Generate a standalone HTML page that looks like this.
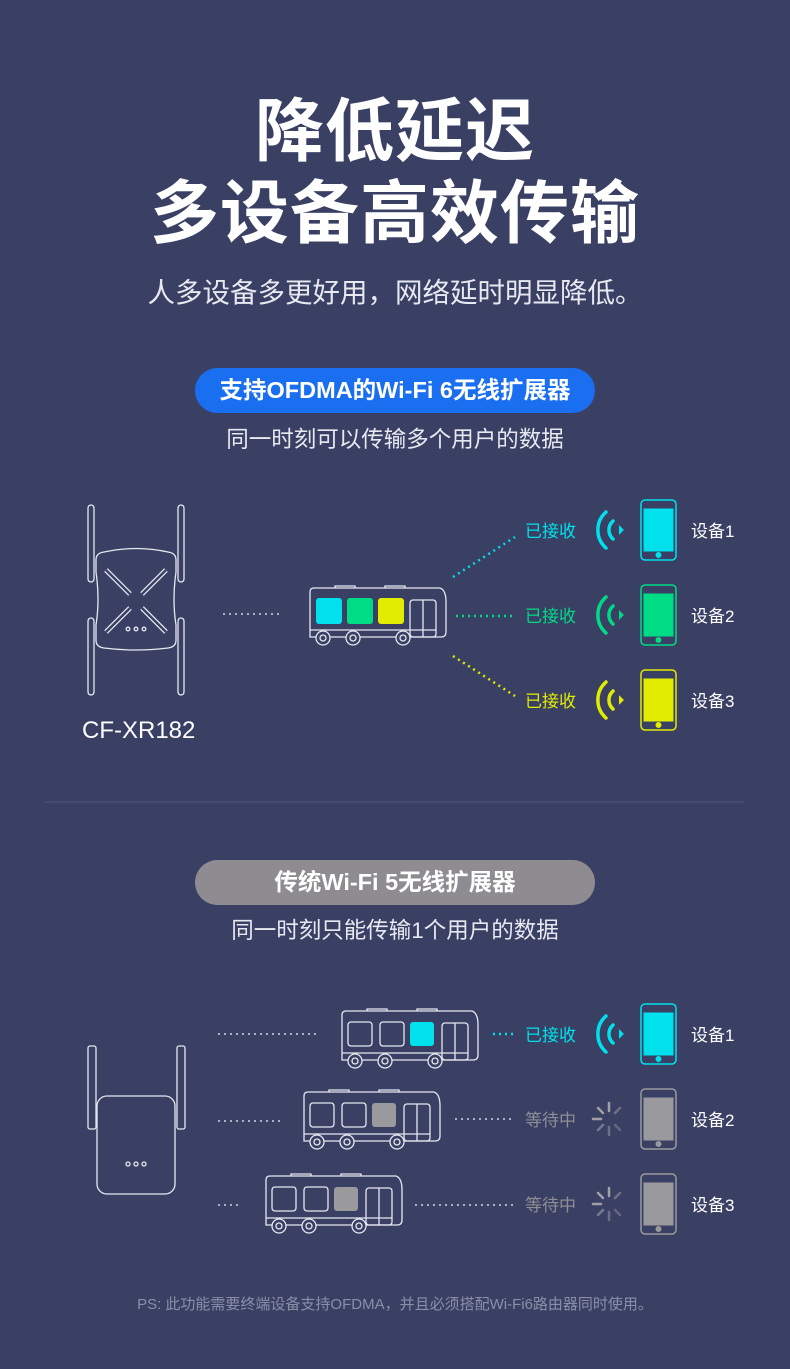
<!DOCTYPE html>
<html><head><meta charset="utf-8"><style>
html,body{margin:0;padding:0;background:#3a4064;}
body{width:790px;height:1369px;overflow:hidden;position:relative;font-family:"Liberation Sans","Noto Sans CJK SC",sans-serif;color:#fff}
.t{position:absolute;left:0;width:790px;text-align:center;white-space:nowrap}
svg{position:absolute;left:0;top:0}
</style></head><body>
<div class="t" style="top:90px;font-size:69px;font-weight:bold;line-height:84px;letter-spacing:1px">降低延迟</div>
<div class="t" style="top:172px;font-size:69px;font-weight:bold;line-height:84px;letter-spacing:1px">多设备高效传输</div>
<div class="t" style="top:274px;font-size:27.5px;line-height:38px;color:#e8e9f0">人多设备多更好用，网络延时明显降低。</div>
<div style="position:absolute;left:195px;top:368px;width:400px;height:45px;border-radius:23px;background:#1a6ef0"></div>
<div class="t" style="top:368px;font-size:23.5px;font-weight:bold;line-height:45px">支持OFDMA的Wi-Fi 6无线扩展器</div>
<div class="t" style="top:424px;font-size:22.5px;line-height:32px;color:#e8e9f0">同一时刻可以传输多个用户的数据</div>
<div style="position:absolute;left:195px;top:860px;width:400px;height:45px;border-radius:23px;background:#8e8c90"></div>
<div class="t" style="top:860px;font-size:23.5px;font-weight:bold;line-height:45px">传统Wi-Fi 5无线扩展器</div>
<div class="t" style="top:915px;font-size:22.5px;line-height:32px;color:#e8e9f0">同一时刻只能传输1个用户的数据</div>
<div style="position:absolute;left:82px;top:715px;font-size:24px;line-height:32px">CF-XR182</div>
<div class="t" style="top:1294px;font-size:15px;line-height:22px;color:#8a8fa8">PS: 此功能需要终端设备支持OFDMA，并且必须搭配Wi-Fi6路由器同时使用。</div>

<svg width="790" height="1369" viewBox="0 0 790 1369">
<defs>
<g id="bus" fill="none" stroke="#e6e8f0" stroke-width="1.3">
<path d="M0 4 Q0 0 4 0 H130 Q136 2 136 14 V44 Q136 49 131 49 H0 Z"/>
<path d="M25 0 V-2 H45 V0 M75 0 V-2 H95 V0"/>
<rect x="100" y="12" width="26" height="37" rx="3"/><line x1="113" y1="12" x2="113" y2="49"/>
<line x1="0" y1="42" x2="126" y2="42"/>
<circle cx="13" cy="50" r="7" fill="#3a4064"/><circle cx="13" cy="50" r="3"/>
<circle cx="43" cy="50" r="7" fill="#3a4064"/><circle cx="43" cy="50" r="3"/>
<circle cx="93" cy="50" r="7" fill="#3a4064"/><circle cx="93" cy="50" r="3"/>
</g>
<g id="phone"><rect x="0" y="0" width="35" height="60" rx="4" fill="none" stroke-width="1.5"/><rect x="3" y="9" width="29" height="42"/><circle cx="17.5" cy="55" r="2.5"/></g>
<g id="wifi" fill="none" stroke-width="3.5" stroke-linecap="round"><path d="M-12 -18 A24 24 0 0 0 -12 18"/><path d="M-5 -9 A12 12 0 0 0 -5 9"/><path d="M2 -2.5 L4.5 0 L2 2.5 Z" stroke-width="2"/></g>
<g id="spin" stroke="#a0a0a6" stroke-width="2.5" stroke-linecap="round"><line x1="0" y1="-16" x2="0" y2="-8"/><line x1="11" y1="-11" x2="6" y2="-6" opacity=".5"/><line x1="-11" y1="-11" x2="-6" y2="-6"/><line x1="-16" y1="0" x2="-8" y2="0"/><line x1="-11" y1="11" x2="-6" y2="6" opacity=".6"/><line x1="0" y1="16" x2="0" y2="8" opacity=".5"/><line x1="11" y1="11" x2="6" y2="6" opacity=".4"/></g>
</defs>
<line x1="45" y1="802" x2="745" y2="802" stroke="#4e5578" stroke-width="1"/>
<g fill="none" stroke="#e6e8f0" stroke-width="1.3">
<rect x="88" y="505" width="6" height="77" rx="3"/><rect x="178" y="505" width="6" height="77" rx="3"/>
<rect x="88" y="618" width="6" height="77" rx="3"/><rect x="178" y="618" width="6" height="77" rx="3"/>
<path d="M96 560 Q96 553 104 552 Q136 545 168 552 Q176 553 176 560 V572 Q172 600 176 625 V640 Q176 647 168 648 Q136 652 104 648 Q96 647 96 640 V625 Q100 600 96 572 Z"/>
<g stroke-width="5" stroke="#e6e8f0"><line x1="106" y1="570" x2="130" y2="594"/><line x1="166" y1="570" x2="142" y2="594"/><line x1="106" y1="632" x2="130" y2="608"/><line x1="166" y1="632" x2="142" y2="608"/></g>
<g stroke-width="2.5" stroke="#3a4064"><line x1="106" y1="570" x2="130" y2="594"/><line x1="166" y1="570" x2="142" y2="594"/><line x1="106" y1="632" x2="130" y2="608"/><line x1="166" y1="632" x2="142" y2="608"/></g>
<circle cx="128" cy="629" r="1.8"/><circle cx="136" cy="629" r="1.8"/><circle cx="144" cy="629" r="1.8"/>
</g>
<line x1="223" y1="614" x2="282" y2="614" stroke="#aab0c8" stroke-width="2" stroke-dasharray="2 4"/>
<use href="#bus" x="310" y="588"/>
<rect x="316" y="598" width="26" height="26" rx="3" fill="#00e1ed"/>
<rect x="347" y="598" width="26" height="26" rx="3" fill="#00db85"/>
<rect x="378" y="598" width="26" height="26" rx="3" fill="#e1ec00"/>
<line x1="453" y1="577" x2="515" y2="537" stroke="#00e1ed" stroke-width="2.5" stroke-dasharray="2 4"/>
<line x1="456" y1="616" x2="515" y2="616" stroke="#00db85" stroke-width="2.5" stroke-dasharray="2 4"/>
<line x1="453" y1="656" x2="515" y2="696" stroke="#e1ec00" stroke-width="2.5" stroke-dasharray="2 4"/>
<g font-size="17" font-family="Liberation Sans,Noto Sans CJK SC,sans-serif">
<text x="525" y="537" fill="#00e1ed">已接收</text>
<text x="525" y="622" fill="#00db85">已接收</text>
<text x="525" y="707" fill="#e1ec00">已接收</text>
<text x="691" y="537" fill="#fff">设备1</text><text x="691" y="622" fill="#fff">设备2</text><text x="691" y="707" fill="#fff">设备3</text>
<text x="691" y="1041" fill="#fff">设备1</text><text x="691" y="1126" fill="#fff">设备2</text><text x="691" y="1211" fill="#fff">设备3</text>
<text x="525" y="1041" fill="#00e1ed">已接收</text>
<text x="525" y="1126" fill="#8e8e94">等待中</text>
<text x="525" y="1211" fill="#8e8e94">等待中</text>
</g>
<use href="#wifi" x="618" y="530" stroke="#00e1ed"/><use href="#wifi" x="618" y="615" stroke="#00db85"/><use href="#wifi" x="618" y="700" stroke="#e1ec00"/>
<use href="#phone" x="641" y="500" stroke="#00e1ed" fill="#00e1ed"/>
<use href="#phone" x="641" y="585" stroke="#00db85" fill="#00db85"/>
<use href="#phone" x="641" y="670" stroke="#e1ec00" fill="#e1ec00"/>
<g fill="none" stroke="#e6e8f0" stroke-width="1.3">
<rect x="88" y="1046" width="8" height="83" rx="2"/><rect x="177" y="1046" width="8" height="83" rx="2"/>
<rect x="97" y="1096" width="78" height="98" rx="10" fill="#3a4064"/>
<circle cx="128" cy="1164" r="2"/><circle cx="136" cy="1164" r="2"/><circle cx="144" cy="1164" r="2"/>
</g>
<g stroke="#aab0c8" stroke-width="2" stroke-dasharray="2 4">
<line x1="218" y1="1034" x2="320" y2="1034"/><line x1="218" y1="1121" x2="282" y2="1121"/><line x1="218" y1="1205" x2="242" y2="1205"/>
<line x1="455" y1="1119" x2="515" y2="1119"/><line x1="415" y1="1205" x2="515" y2="1205"/>
</g>
<line x1="493" y1="1034" x2="515" y2="1034" stroke="#00e1ed" stroke-width="2.5" stroke-dasharray="2 4"/>
<use href="#bus" x="342" y="1011"/><use href="#bus" x="304" y="1092"/><use href="#bus" x="266" y="1176"/>
<g fill="none" stroke="#e6e8f0" stroke-width="1.3">
<rect x="348" y="1022" width="24" height="24" rx="3"/><rect x="380" y="1022" width="24" height="24" rx="3"/>
<rect x="310" y="1103" width="24" height="24" rx="3"/><rect x="342" y="1103" width="24" height="24" rx="3"/>
<rect x="272" y="1187" width="24" height="24" rx="3"/><rect x="304" y="1187" width="24" height="24" rx="3"/>
</g>
<rect x="410" y="1022" width="24" height="24" rx="3" fill="#00e1ed"/>
<rect x="372" y="1103" width="24" height="24" rx="3" fill="#9a9a9c"/>
<rect x="334" y="1187" width="24" height="24" rx="3" fill="#9a9a9c"/>
<use href="#wifi" x="618" y="1034" stroke="#00e1ed"/>
<use href="#spin" x="609" y="1119"/><use href="#spin" x="609" y="1204"/>
<use href="#phone" x="641" y="1004" stroke="#00e1ed" fill="#00e1ed"/>
<use href="#phone" x="641" y="1089" stroke="#9a9a9e" fill="#9a9a9e"/>
<use href="#phone" x="641" y="1174" stroke="#9a9a9e" fill="#9a9a9e"/>
</svg>
</body></html>
